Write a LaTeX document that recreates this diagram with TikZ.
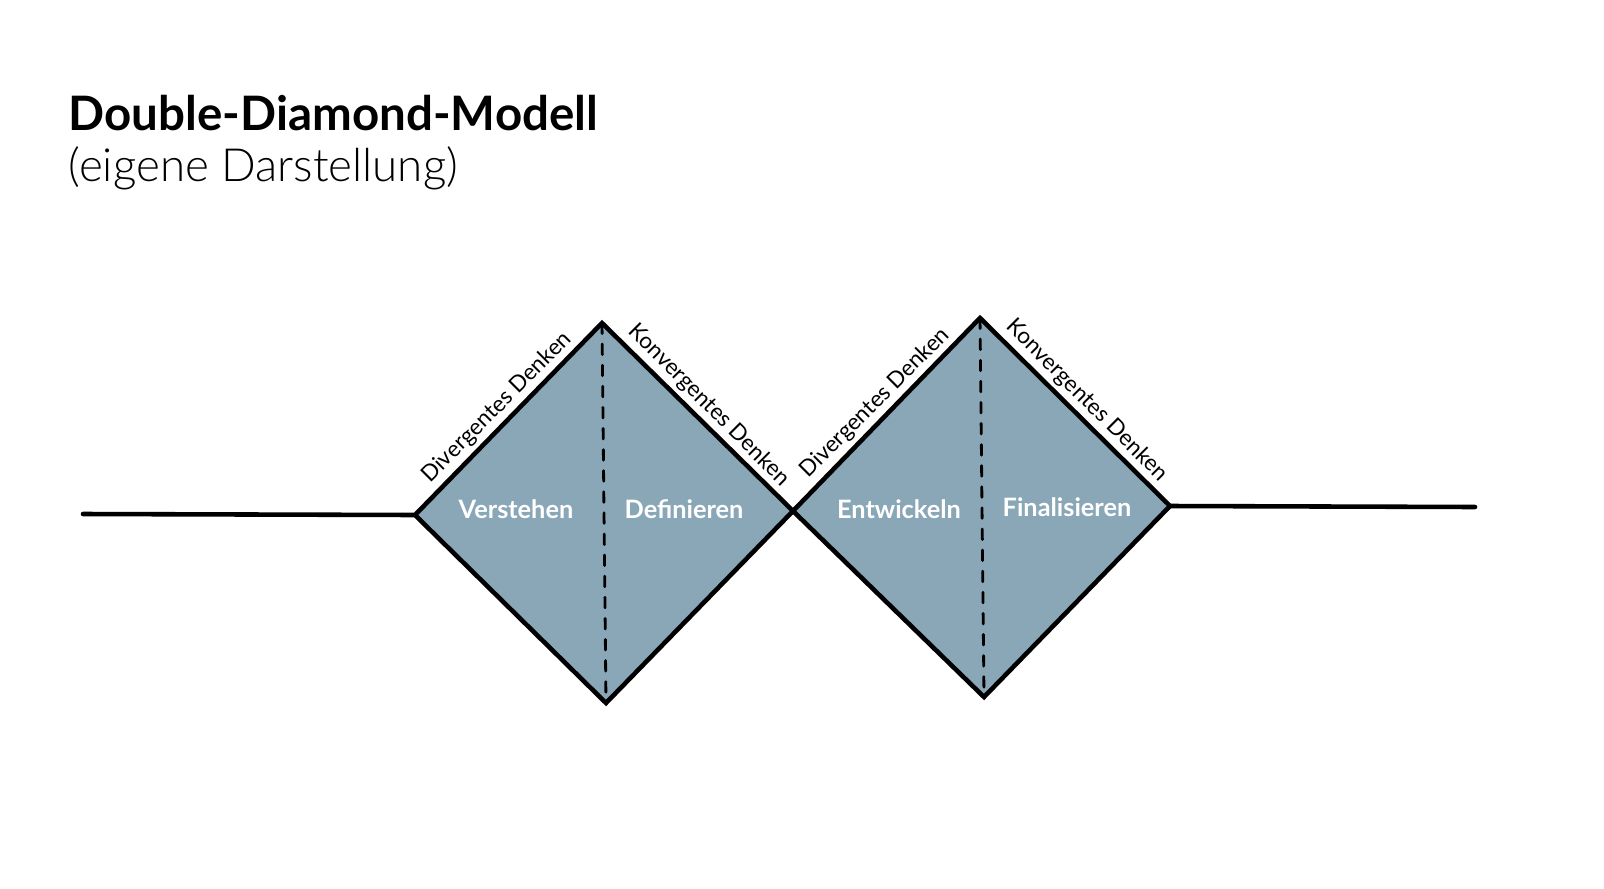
\documentclass[tikz,border=0pt]{standalone}
\usepackage{fontspec}
\setmainfont{Lato}
\usetikzlibrary{positioning,calc}
\definecolor{diamondFill}{HTML}{8AA7B8}
\tikzset{
  edge/.style={line width=1.3pt,line join=miter},
  phase/.style={text=white,font=\fontsize{7.2}{9}\selectfont\bfseries},
  mode/.style={font=\fontsize{6.4}{8}\selectfont,inner sep=1.5pt,anchor=south}
}
\begin{document}
\begin{tikzpicture}[x=0.01cm,y=-0.01cm,line cap=round]
  \useasboundingbox (0,0) rectangle (1604,888);

  % corners
  \coordinate (start) at (83,514);
  \coordinate (l1) at (415,515);
  \coordinate (t1) at (602,323);
  \coordinate (m) at (793,511);
  \coordinate (b1) at (606,703);
  \coordinate (t2) at (980,318);
  \coordinate (r2) at (1170,506);
  \coordinate (b2) at (984,697);
  \coordinate (end) at (1475,507);

  \fill [diamondFill] (l1) -- (t1) -- (m) -- (b1) -- cycle;
  \fill [diamondFill] (m) -- (t2) -- (r2) -- (b2) -- cycle;

  \draw [dashed,thick] (t1) -- (b1);
  \draw [dashed,thick] (t2) -- (b2);

  \draw [edge] (start) -- (l1);
  \draw [edge] (l1) -- (t1) -- (m) -- (b1) -- cycle;
  \draw [edge] (m) -- (t2) -- (r2) -- (b2) -- cycle;
  \draw [edge] (r2) -- (end);

  % labels
  \node [mode,rotate=45] (div1) at ($(l1)!0.5!(t1)$) {Divergentes Denken};
  \node [mode,rotate=-45] (kon1) at ($(t1)!0.5!(m)$) {Konvergentes Denken};
  \node [mode,rotate=45] (div2) at ($(m)!0.5!(t2)$) {Divergentes Denken};
  \node [mode,rotate=-45] (kon2) at ($(t2)!0.5!(r2)$) {Konvergentes Denken};

  \node [phase] (verstehen) at (516,509) {Verstehen};
  \node [phase] (definieren) at (684,509) {Definieren};
  \node [phase] (entwickeln) at (899,509) {Entwickeln};
  \node [phase] (finalisieren) at (1067,507) {Finalisieren};

  \node [anchor=base west,inner sep=0pt,font=\fontsize{13.5}{16}\selectfont\bfseries] (title) at (68,131) {Double-Diamond-Modell};
  \node [anchor=base west,inner sep=0pt,font=\fontsize{13}{16}\selectfont\fontspec{Lato Light}] (subtitle) at (68,182) {(eigene Darstellung)};
\end{tikzpicture}
\end{document}
